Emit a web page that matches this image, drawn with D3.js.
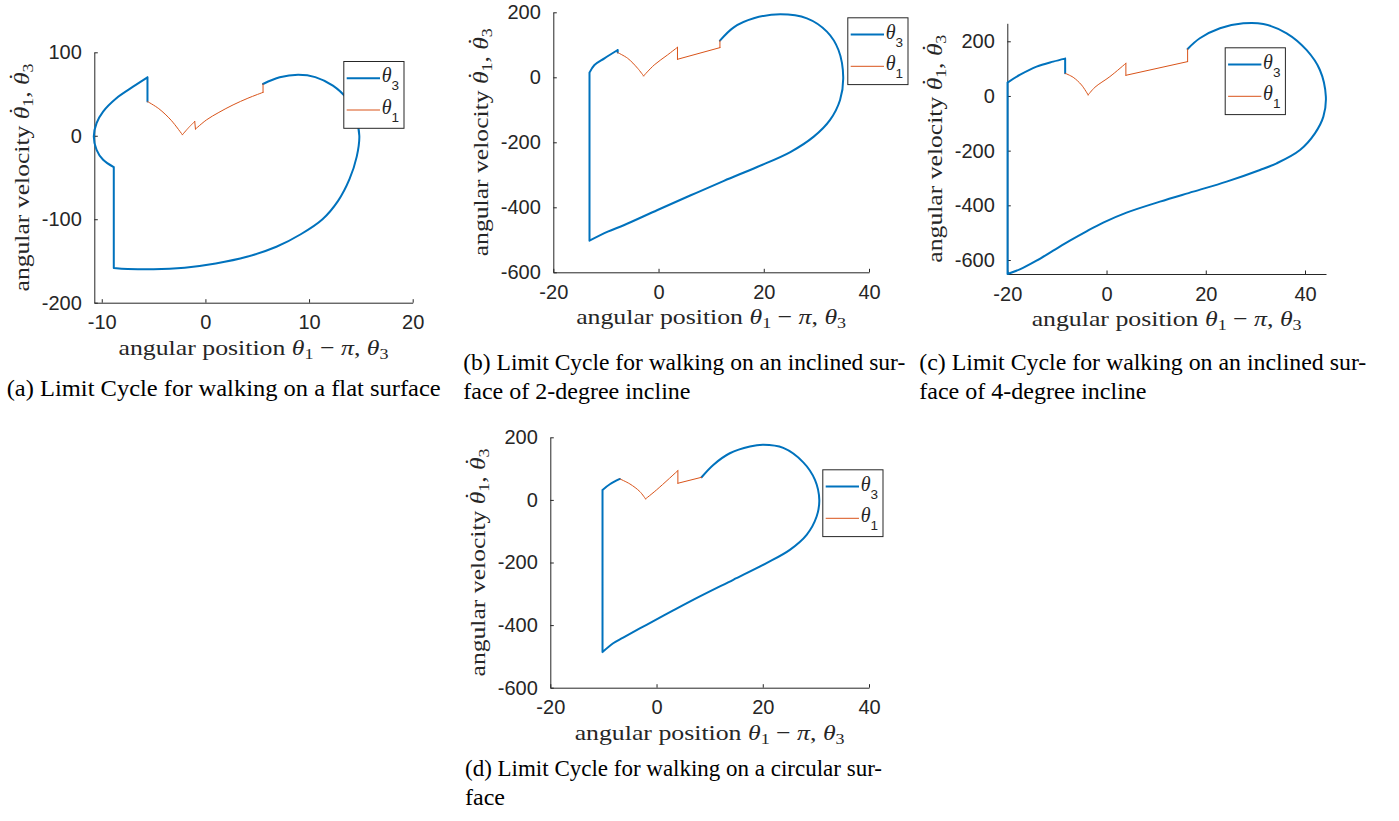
<!DOCTYPE html>
<html>
<head>
<meta charset="utf-8">
<title>Limit cycles</title>
<script src="https://d3js.org/d3.v7.min.js"></script>
<style>
  body { margin: 0; background: #fff; }
  .lab { font-family: "Liberation Serif", serif; fill: #262626; }
  .cap { font-family: "Liberation Serif", "Times New Roman", serif; fill: #000; }
  .leg { fill: #262626; }
</style>
</head>
<body>
<div id="fig"></div>
<script>
// ---- data (x = angular position, y = angular velocity), each series split into pieces
// (a) flat surface
const flatTheta3 = [
  [[5.56, 62], [7.17, 70], [8.94, 73], [10.6, 70.3], [12.3, 60], [13.6, 45], [14.5, 22], [14.85, 0], [14.6, -25],
   [13.9, -52], [12.8, -78], [11.3, -100], [9.2, -118], [6.85, -133], [4, -145], [1, -153], [-2, -158],
   [-5, -160], [-7.5, -159.5], [-8.84, -158.3]],
  [[-8.84, -158.3], [-8.84, -37.6]],
  [[-8.84, -37.6], [-9.87, -28.8], [-10.5, -16.8], [-10.77, -0.8], [-10.5, 15.2], [-9.87, 29], [-8.59, 45], [-6.98, 58.8], [-5.59, 70]],
  [[-5.59, 70], [-5.59, 41]]
];
const flatTheta1 = [
  [[-5.59, 41], [-4.5, 32.5], [-3.3, 18.5], [-2.22, 1.2]],
  [[-2.22, 1.2], [-1.6, 10], [-1.03, 17.2]],
  [[-1.03, 17.2], [-0.96, 8]],
  [[-0.96, 8], [0.1, 19], [1.3, 28], [2.67, 37], [4.1, 45], [5.56, 52]],
  [[5.56, 52], [5.56, 62]]
];
// (b) 2-degree incline
const incl2Theta3 = [
  [[11.67, 112.8], [14.3, 153.8], [18.1, 181.5], [23.15, 193.8], [28.2, 181.5], [32, 140.5], [34.2, 84], [35.1, 0],
   [34.5, -69.7], [32.6, -131], [29.5, -182.6], [25.05, -230], [18.74, -276], [12.43, -318.5], [6.12, -363],
   [-0.19, -408.2], [-6.5, -454.4], [-9.65, -474.9], [-13.12, -502.6]],
  [[-13.12, -502.6], [-13.12, 14.4]],
  [[-13.12, 14.4], [-12.18, 38], [-10.28, 58.5], [-7.76, 84]],
  [[-7.76, 84], [-7.76, 76]]
];
const incl2Theta1 = [
  [[-7.76, 76], [-5.87, 58.5], [-3.97, 27.7], [-2.84, 4.1]],
  [[-2.84, 4.1], [-0.82, 38], [1.7, 68.7], [3.6, 92.3]],
  [[3.6, 92.3], [3.6, 55.4]],
  [[3.6, 55.4], [11.67, 91.3]],
  [[11.67, 91.3], [11.67, 112.8]]
];
// (c) 4-degree incline
const incl4Theta3 = [
  [[16.34, 172], [18.8, 211], [22.86, 247.6], [27.56, 265.9], [31.6, 263.4], [36.3, 229.3], [40.3, 168.3], [43, 95],
   [44.2, -2.4], [43.7, -75.6], [42, -136.6], [38.99, -197.6], [34.29, -246.3], [30.92, -270.7], [24.2, -313.4],
   [17.48, -350], [10.76, -386.6], [4.03, -426.8], [-0.67, -463.4], [-4.03, -495.1], [-7.39, -529.3],
   [-10.76, -565.9], [-14.12, -602.4], [-17.48, -634.1], [-19.95, -651]],
  [[-19.95, -651], [-19.95, 48.8]],
  [[-19.95, 48.8], [-17.5, 76.8], [-14.1, 107.3], [-10.76, 125.6], [-8.34, 136.6]],
  [[-8.34, 136.6], [-8.34, 82.9]]
];
const incl4Theta1 = [
  [[-8.34, 82.9], [-6.72, 68.3], [-5.04, 40.2], [-3.7, 3.7]],
  [[-3.7, 3.7], [-2.35, 31.7], [0.67, 70.7], [3.9, 119.5]],
  [[3.9, 119.5], [3.9, 75.6]],
  [[3.9, 75.6], [16.34, 125.6]],
  [[16.34, 125.6], [16.34, 172]]
];
// (d) circular surface
const circTheta3 = [
  [[8.48, 72.3], [10.68, 111.7], [13.8, 149], [17.58, 170.5], [20.1, 176], [23.86, 166], [27.63, 120], [29.83, 63.8],
   [30.64, 0], [30.14, -53.2], [28.26, -111.7], [25.1, -159.6], [20.7, -202], [14.44, -255.3], [8.16, -308.5],
   [3.14, -353.2], [-1.88, -398.9], [-6.28, -440], [-8.16, -458], [-10.17, -486.2]],
  [[-10.17, -486.2], [-10.17, 31.9]],
  [[-10.17, 31.9], [-8.79, 50], [-6.9, 67]]
];
const circTheta1 = [
  [[-6.9, 67], [-5.02, 51], [-3.14, 26.6], [-2.07, 3.2]],
  [[-2.07, 3.2], [0, 31.9], [4.02, 93.6]],
  [[4.02, 93.6], [4.02, 53.2]],
  [[4.02, 53.2], [8.48, 72.3]]
];

const ticksX_a = [-10, 0, 10, 20];
const ticksY_a = [-200, -100, 0, 100];
const ticksX = [-20, 0, 20, 40];
const ticksY = [-600, -400, -200, 0, 200];
const legendNames = ["3", "1"];   // subscripts of theta
const captionA = ["(a) Limit Cycle for walking on a flat surface"];
const captionB = ["(b) Limit Cycle for walking on an inclined sur-", "face of 2-degree incline"];
const captionC = ["(c) Limit Cycle for walking on an inclined sur-", "face of 4-degree incline"];
const captionD = ["(d) Limit Cycle for walking on a circular sur-", "face"];

const blue = "#0072BD", orange = "#D95319", ink = "#262626";

const panels = [
  {left: 94.3, top: 52.3, w: 318.4, h: 250.4, xd: [-10.72, 20], yd: [-200, 100], xt: ticksX_a, yt: ticksY_a,
   t3: flatTheta3, t1: flatTheta1, leg: [343.3, 61], cap: captionA, capX: 6.7, capY: 396, capW: 434},
  {left: 553.3, top: 12.3, w: 315.7, h: 260, xd: [-20, 40], yd: [-600, 200], xt: ticksX, yt: ticksY,
   t3: incl2Theta3, t1: incl2Theta1, leg: [847.3, 17.3], cap: captionB, capX: 463.3, capY: 370, capW: 442},
  {left: 1007.3, top: 23.3, w: 318.7, h: 250.7, xd: [-20, 44.23], yd: [-651.2, 265.8], xt: ticksX, yt: ticksY,
   t3: incl4Theta3, t1: incl4Theta1, leg: [1224.7, 47.3], cap: captionC, capX: 919.3, capY: 370, capW: 447},
  {left: 550.3, top: 437.3, w: 318.7, h: 250.4, xd: [-20, 40], yd: [-600, 200], xt: ticksX, yt: ticksY,
   t3: circTheta3, t1: circTheta1, leg: [822.3, 469.3], cap: captionD, capX: 465, capY: 776, capW: 417}
];

const svg = d3.select("#fig").append("svg").attr("width", 1399).attr("height", 821);

// text with italic symbols, dotted symbols and subscripts
function mathText(sel, parts, size, len) {
  const t = sel.append("text").attr("class", "lab").attr("font-size", size)
    .attr("textLength", len).attr("lengthAdjust", "spacingAndGlyphs");
  let cur = 0;
  parts.forEach(p => {
    const target = p.sub ? 4 : 0;
    const s = t.append("tspan").text(p.t);
    if (target - cur) s.attr("dy", target - cur);
    cur = target;
    if (p.sub) s.attr("font-size", size * 0.7);
    if (p.i) s.attr("font-style", "italic");
    if (p.dot) {
      t.append("tspan").text("\u02D9").attr("dx", "-0.34em").attr("dy", -5 - cur);
      cur = -5;
    }
  });
  return t;
}
const xLabelParts = [{t: "angular position "}, {t: "θ", i: true}, {t: "1", sub: true}, {t: " − "}, {t: "π", i: true},
  {t: ", "}, {t: "θ", i: true}, {t: "3", sub: true}];
const yLabelParts = [{t: "angular velocity "}, {t: "θ", i: true, dot: true}, {t: "1", sub: true}, {t: ", "},
  {t: "θ", i: true, dot: true}, {t: "3", sub: true}];

panels.forEach(p => {
  const x = d3.scaleLinear().domain(p.xd).range([p.left, p.left + p.w]);
  const y = d3.scaleLinear().domain(p.yd).range([p.top + p.h, p.top]);
  const g = svg.append("g");

  const styleAxis = a => {
    a.attr("font-family", "'Liberation Sans', Arial, sans-serif").attr("font-size", 20);
    a.select(".domain").attr("stroke", ink);
    a.selectAll(".tick line").attr("stroke", ink);
    a.selectAll(".tick text").attr("fill", ink);
  };
  g.append("g").attr("transform", `translate(0,${p.top + p.h})`)
    .call(d3.axisBottom(x).tickValues(p.xt).tickFormat(d => String(d))
      .tickSizeInner(-3.5).tickSizeOuter(0).tickPadding(12.5))
    .call(styleAxis);
  g.append("g").attr("transform", `translate(${p.left},0)`)
    .call(d3.axisLeft(y).tickValues(p.yt).tickFormat(d => String(d))
      .tickSizeInner(-3.5).tickSizeOuter(0).tickPadding(12.5))
    .call(styleAxis);

  const line = d3.line().x(d => x(d[0])).y(d => y(d[1])).curve(d3.curveCatmullRom.alpha(0.5));
  g.append("path").attr("d", p.t3.map(s => line(s)).join(""))
    .attr("fill", "none").attr("stroke", blue).attr("stroke-width", 2)
    .attr("stroke-linecap", "round").attr("stroke-linejoin", "round");
  g.append("path").attr("d", p.t1.map(s => line(s)).join(""))
    .attr("fill", "none").attr("stroke", orange).attr("stroke-width", 1)
    .attr("stroke-linecap", "round").attr("stroke-linejoin", "round");

  // axis labels
  mathText(g, xLabelParts, 22, 270).attr("x", p.left + p.w / 2 - 135).attr("y", p.top + p.h + 52);
  mathText(g, yLabelParts, 22, 228).attr("x", -114)
    .attr("transform", `translate(${p.left - 65},${p.top + p.h / 2}) rotate(-90)`);

  // legend
  const lg = g.append("g").attr("transform", `translate(${p.leg[0]},${p.leg[1]})`);
  lg.append("rect").attr("x", 0.5).attr("y", 0.5).attr("width", 60.2).attr("height", 66.8)
    .attr("fill", "#fff").attr("stroke", ink).attr("stroke-width", 1);
  [[blue, 2], [orange, 1]].forEach(([c, sw], i) => {
    const ry = 17.3 + i * 31.7;
    lg.append("line").attr("x1", 3.4).attr("x2", 36.7).attr("y1", ry).attr("y2", ry)
      .attr("stroke", c).attr("stroke-width", sw);
    const t = lg.append("text").attr("class", "leg").attr("x", 38.4).attr("y", ry + 4);
    t.append("tspan").attr("font-family", "'Liberation Serif', serif").attr("font-style", "italic")
      .attr("font-size", 20).text("θ");
    t.append("tspan").attr("font-family", "'Liberation Sans', Arial, sans-serif").attr("font-size", 13.5)
      .attr("dy", 8).text(legendNames[i]);
  });

  // caption
  p.cap.forEach((s, i) => {
    const t = svg.append("text").attr("class", "cap").attr("font-size", 24)
      .attr("x", p.capX).attr("y", p.capY + i * 29).text(s);
    if (i === 0) t.attr("textLength", p.capW).attr("lengthAdjust", "spacingAndGlyphs");
  });
});
</script>
</body>
</html>
